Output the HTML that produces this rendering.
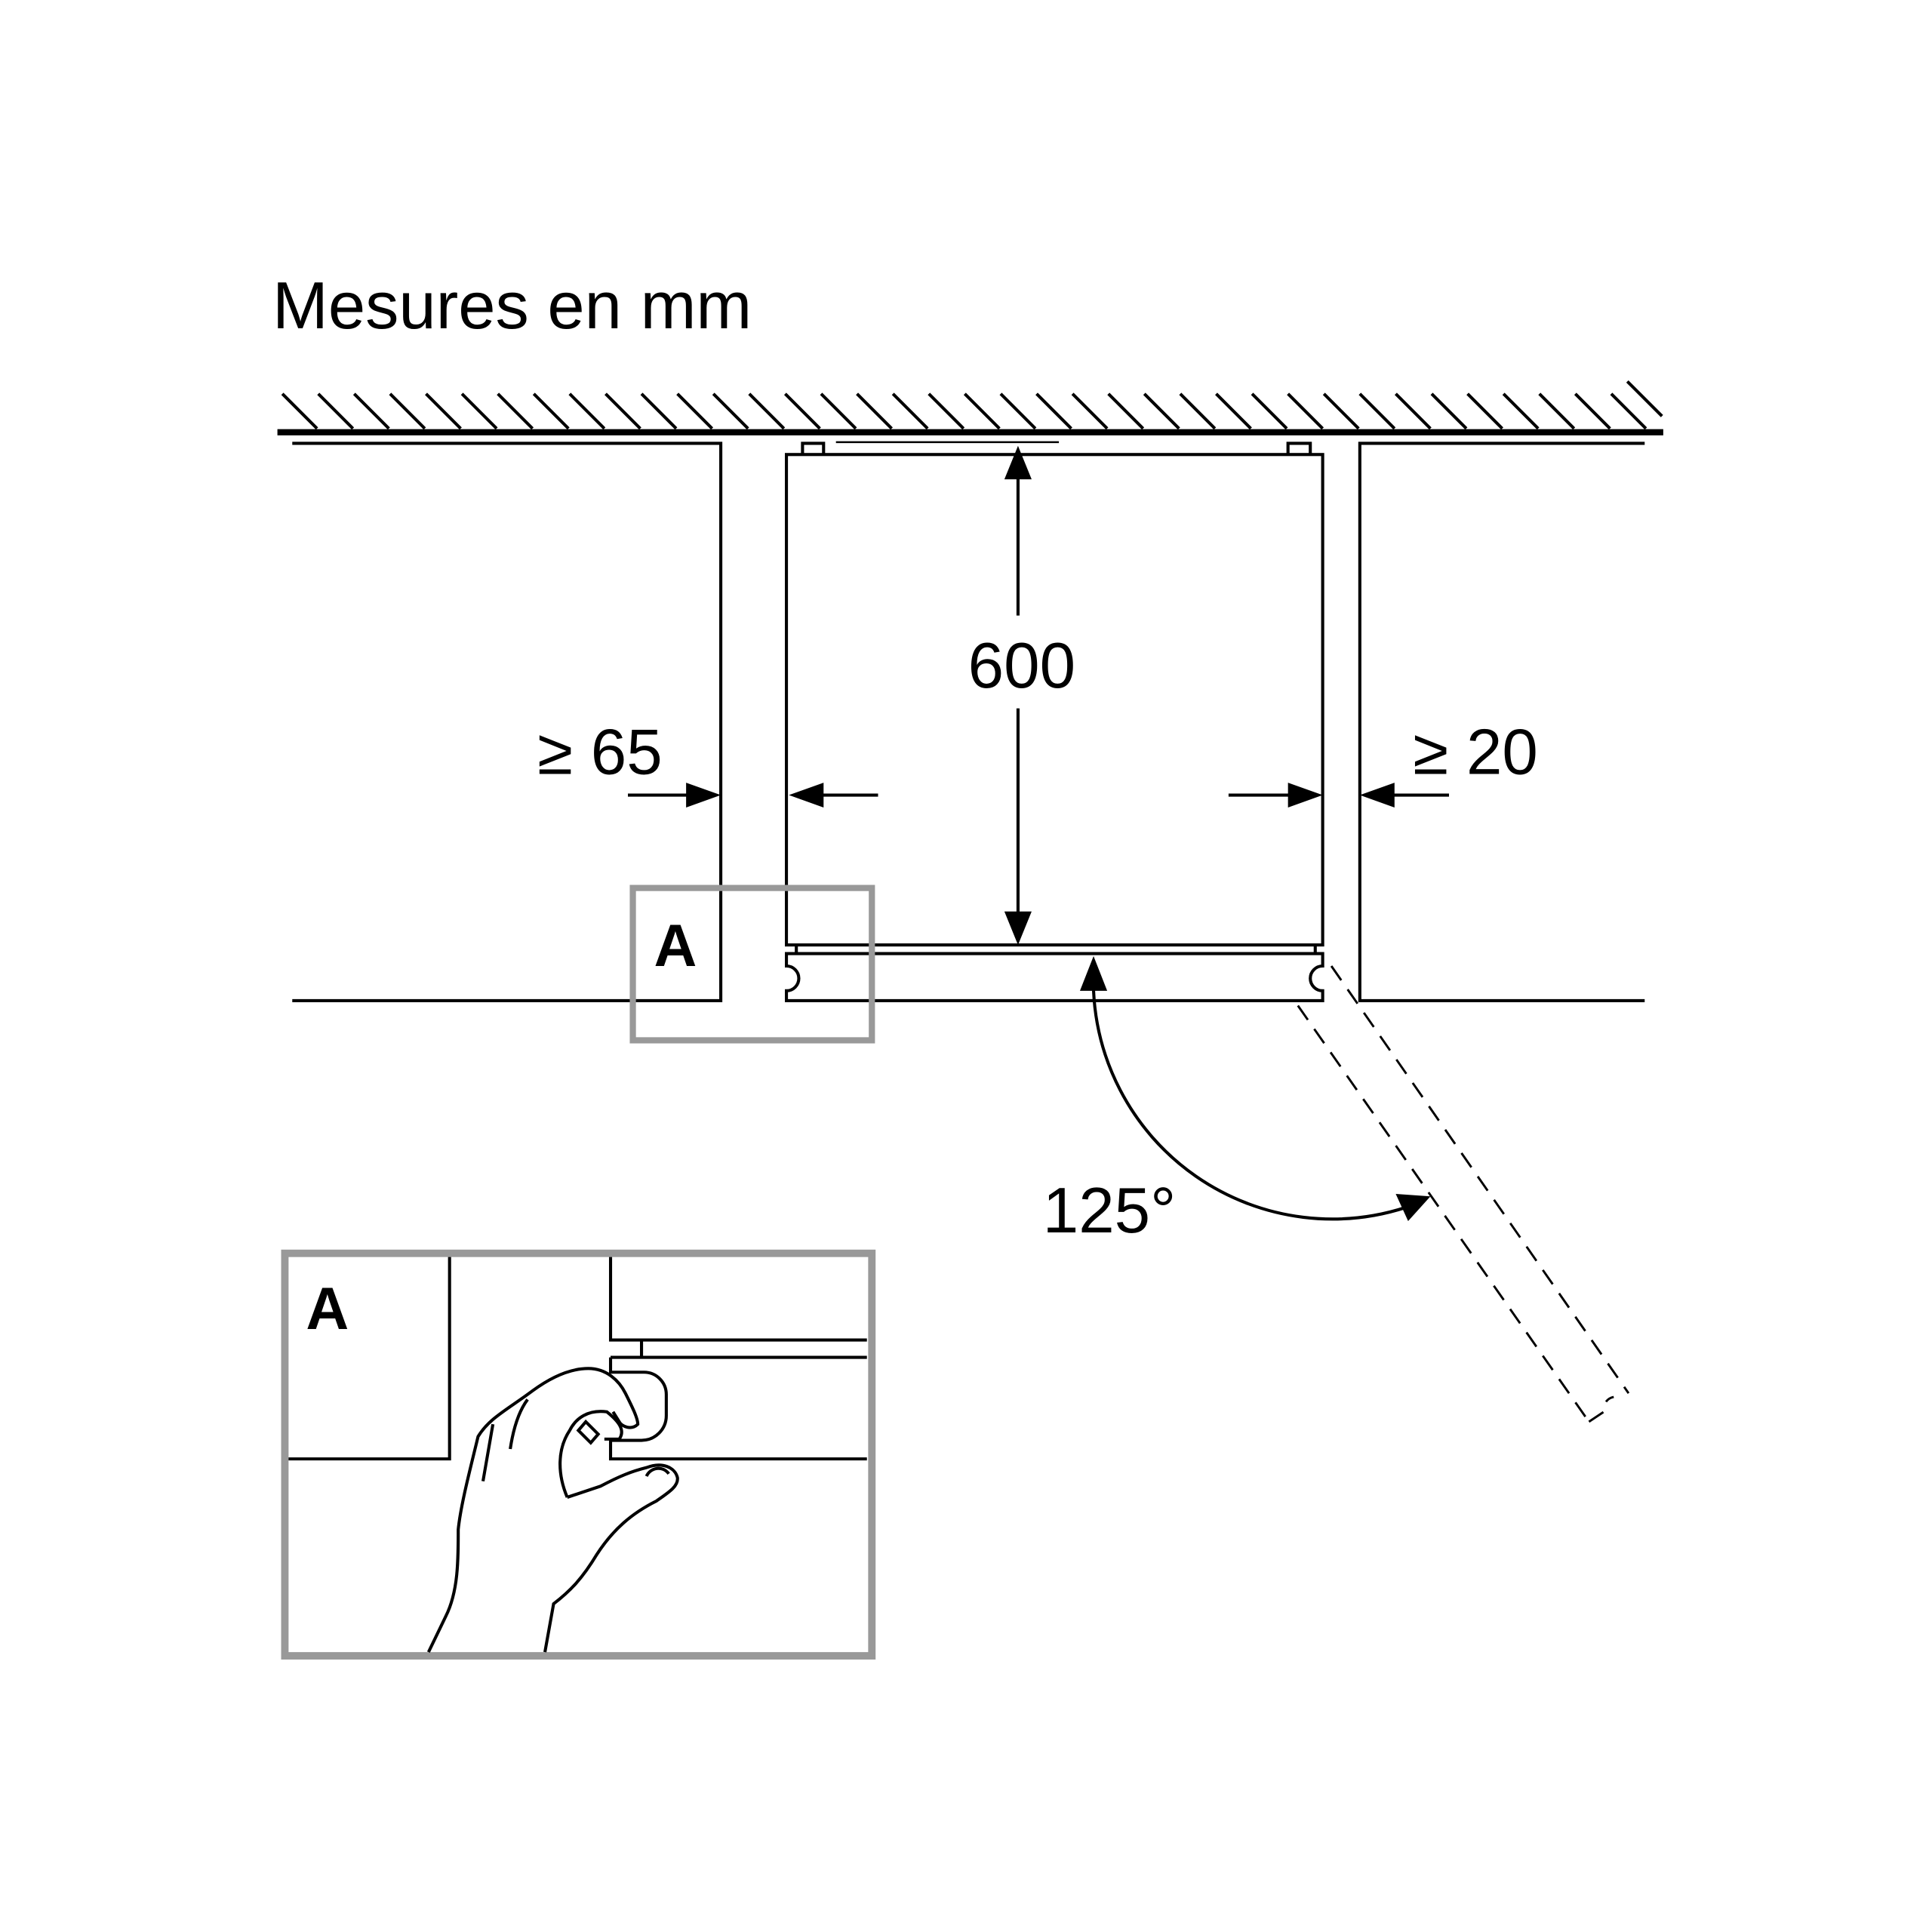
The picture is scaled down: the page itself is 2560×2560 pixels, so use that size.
<!DOCTYPE html>
<html><head><meta charset="utf-8"><style>html,body{margin:0;padding:0;background:#fff}svg{display:block}</style></head>
<body>
<svg width="2560" height="2560" viewBox="0 0 1560 1560" xmlns="http://www.w3.org/2000/svg" font-family="Liberation Sans, DejaVu Sans, sans-serif">
<rect width="1560" height="1560" fill="#fff"/>
<text x="220" y="265" font-size="54">Mesures en mm</text>
<g stroke="#000" stroke-width="2.5" fill="none">
<path d="M228 318 l28 28 M257 318 l28 28 M286 318 l28 28 M315 318 l28 28 M344 318 l28 28 M373 318 l28 28 M402 318 l28 28 M431 318 l28 28 M460 318 l28 28 M489 318 l28 28 M518 318 l28 28 M547 318 l28 28 M576 318 l28 28 M605 318 l28 28 M634 318 l28 28 M663 318 l28 28 M692 318 l28 28 M721 318 l28 28 M750 318 l28 28 M779 318 l28 28"/>
<path d="M808 318 l28 28 M837 318 l28 28 M866 318 l28 28 M895 318 l28 28 M924 318 l28 28 M953 318 l28 28 M982 318 l28 28 M1011 318 l28 28 M1040 318 l28 28 M1069 318 l28 28 M1098 318 l28 28 M1127 318 l28 28 M1156 318 l28 28 M1185 318 l28 28 M1214 318 l28 28 M1243 318 l28 28 M1272 318 l28 28 M1301 318 l28 28 M1314 308 l28 28"/>
<line x1="224" y1="349" x2="1343" y2="349" stroke-width="5"/>
<path d="M236 358 H582 V808 H236"/>
<path d="M1328 358 H1098 V808 H1328"/>
<rect x="635" y="367" width="433" height="396"/>
<path d="M648 367 V358 H665 V367 M1040 367 V358 H1058 V367"/>
<line x1="675" y1="357" x2="855" y2="357" stroke-width="1.5"/>
<path d="M643 763 V770 M1062 763 V770"/>
<path d="M635 770 H1068 V780 A10 10 0 0 0 1068 800 V808 H635 V800 A10 10 0 0 0 635 780 Z"/>
<line x1="822" y1="385" x2="822" y2="497"/>
<line x1="822" y1="572" x2="822" y2="745"/>
<line x1="507" y1="642" x2="565" y2="642"/>
<line x1="652" y1="642" x2="709" y2="642"/>
<line x1="992" y1="642" x2="1052" y2="642"/>
<line x1="1114" y1="642" x2="1170" y2="642"/>
<line x1="883" y1="792" x2="883" y2="800"/>
<path d="M883 800 A193 193 0 0 0 1135 975"/>
<g stroke-dasharray="14 9" stroke-width="1.8">
<line x1="1048" y1="812" x2="1283" y2="1148"/>
<line x1="1075" y1="780" x2="1315" y2="1125"/>
<path d="M1283 1148 L1295 1140 A10 10 0 0 1 1303 1128"/>
</g>
</g>
<g fill="#000">
<path d="M822 360 l-11 27 h22z M822 763 l-11 -27 h22z"/>
<path d="M582 642 l-28 -10 v20z M637 642 l28 -10 v20z"/>
<path d="M1068 642 l-28 -10 v20z M1098 642 l28 -10 v20z"/>
<path d="M883 772 l-11 28 h22z"/>
<path d="M1155 966 l-28 -2 l10 22z"/>
</g>
<text x="825" y="555" font-size="52" text-anchor="middle">600</text>
<text x="434" y="625" font-size="52">≥ 65</text>
<text x="1141" y="625" font-size="52">≥ 20</text>
<text x="842" y="995" font-size="52">125°</text>
<rect x="511" y="717" width="193" height="123" fill="none" stroke="#999" stroke-width="5"/>
<text x="528" y="780" font-size="48" font-weight="bold">A</text>
<rect x="230" y="1012" width="474" height="325" fill="none" stroke="#999" stroke-width="6"/>
<text x="247" y="1073" font-size="48" font-weight="bold">A</text>
<g stroke="#000" stroke-width="2.5" fill="none">
<path d="M363 1015 V1178 H233"/>
<path d="M493 1015 V1082 H700 M518 1082 V1096 M493 1096 H700"/>
<path d="M493 1096 V1108 H520 A18 18 0 0 1 538 1126 V1143 A20 20 0 0 1 518 1163 H493 V1178 H700"/>
<path d="M346 1334 L360 1305 C370 1285 370 1260 370 1235 C372 1215 380 1185 386 1160 C395 1145 410 1138 430 1123 C445 1112 460 1105 475 1105 C490 1105 500 1115 505 1125 C510 1135 515 1145 515 1150 C510 1155 502 1152 500 1148 L495 1140"/>
<path d="M390 1196 L398 1150 M412 1170 C415 1150 420 1138 426 1130"/>
<path d="M458 1209 C450 1190 450 1170 460 1155 C465 1145 475 1138 490 1140 C500 1148 505 1155 500 1162 L488 1162"/>
<path d="M458 1209 L485 1200 C500 1192 510 1188 522 1185 C535 1180 545 1185 547 1193 C548 1200 540 1205 530 1212 C510 1222 495 1235 482 1255 C470 1275 460 1285 447 1295 L440 1334"/>
<path d="M473 1148 L483 1158 L477 1165 L467 1155 Z"/>
<path d="M522 1192 C525 1185 535 1183 540 1190"/>
</g>
</svg>
</body></html>
